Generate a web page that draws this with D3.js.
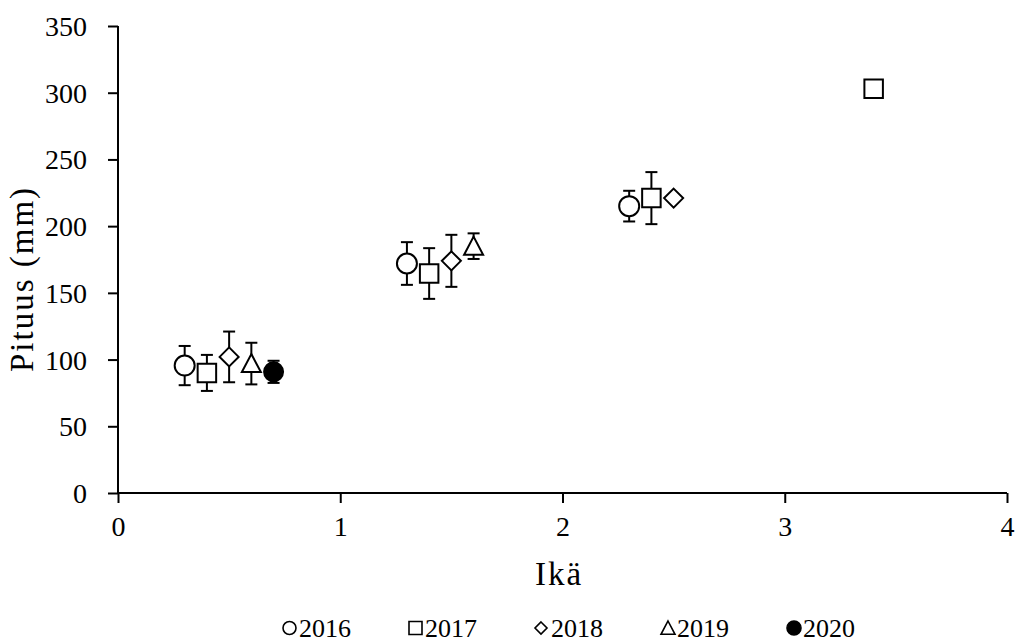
<!DOCTYPE html>
<html>
<head>
<meta charset="utf-8">
<script src="https://cdn.jsdelivr.net/npm/d3@7"></script>
<style>
  html, body { margin: 0; padding: 0; background: #fff; }
  svg { display: block; }
  text { font-family: "Palatino Linotype", "Book Antiqua", Palatino, "Liberation Serif", serif; fill: #000; }
</style>
</head>
<body>
<svg id="chart" width="1016" height="643"></svg>
<script>
// ---- data ----
const seriesNames = ["2016", "2017", "2018", "2019", "2020"];
const ages2016 = [0.3, 1.3, 2.3];
const len2016  = [95.5, 172, 215];
const err2016  = [14.7, 16, 11.5];
const ages2017 = [0.4, 1.4, 2.4, 3.4];
const len2017  = [90, 164.5, 221, 303];
const err2017  = [13.5, 19, 19.5, 0];
const ages2018 = [0.5, 1.5, 2.5];
const len2018  = [102, 174, 221];
const err2018  = [19, 19.5, 0];
const ages2019 = [0.6, 1.6];
const len2019  = [97, 185];
const err2019  = [15.6, 9.6];
const ages2020 = [0.7];
const len2020  = [90.8];
const err2020  = [8.3];
const xTicks = [0, 1, 2, 3, 4];
const yTicks = [0, 50, 100, 150, 200, 250, 300, 350];
const xTitle = "Ikä";
const yTitle = "Pituus (mm)";

const shapes = ["circle", "square", "diamond", "triangle", "dot"];
const series = [
  {name: seriesNames[0], x: ages2016, y: len2016, e: err2016, shape: shapes[0]},
  {name: seriesNames[1], x: ages2017, y: len2017, e: err2017, shape: shapes[1]},
  {name: seriesNames[2], x: ages2018, y: len2018, e: err2018, shape: shapes[2]},
  {name: seriesNames[3], x: ages2019, y: len2019, e: err2019, shape: shapes[3]},
  {name: seriesNames[4], x: ages2020, y: len2020, e: err2020, shape: shapes[4]},
];

// ---- layout ----
const svg = d3.select("#chart");
const margin = {left: 118, right: 9, top: 26, bottom: 150};
const W = 1016, H = 643;
const x = d3.scaleLinear().domain([0, 4]).range([margin.left, W - margin.right]);
const y = d3.scaleLinear().domain([0, 350]).range([H - margin.bottom, margin.top]);

const tickFont = 28;

// axes
const xAxis = svg.append("g")
  .attr("transform", `translate(0,${y(0)})`)
  .call(d3.axisBottom(x).tickValues(xTicks).tickSize(10).tickPadding(13).tickFormat(d3.format("d")));
const yAxis = svg.append("g")
  .attr("transform", `translate(${x(0)},0)`)
  .call(d3.axisLeft(y).tickValues(yTicks).tickSize(10).tickPadding(21).tickFormat(d3.format("d")));
[xAxis, yAxis].forEach(g => {
  g.select(".domain").attr("stroke", "#000").attr("stroke-width", 2);
  g.selectAll(".tick line").attr("stroke", "#000").attr("stroke-width", 2);
  g.selectAll(".tick text").style("font-size", tickFont + "px").attr("fill", "#000");
});
xAxis.select(".domain").attr("d", `M${x(0)},0H${x(4)}`);
yAxis.select(".domain").attr("d", `M0,${y(0)}V${y(350)}`);
yAxis.selectAll(".tick text").attr("dy", "0.34em");

// titles
svg.append("text")
  .attr("x", 559)
  .attr("y", 585)
  .attr("text-anchor", "middle")
  .style("font-size", "33px")
  .style("letter-spacing", "2px")
  .text(xTitle);
svg.append("text")
  .attr("transform", `translate(33,279) rotate(-90)`)
  .attr("text-anchor", "middle")
  .style("font-size", "33px")
  .style("letter-spacing", "2px")
  .text(yTitle);

// marker paths
function markerPath(shape, s) {
  const h = s / 2;
  if (shape === "circle" || shape === "dot") {
    return `M${h},0A${h},${h} 0 1,1 ${-h},0A${h},${h} 0 1,1 ${h},0Z`;
  }
  if (shape === "square") return `M${-h},${-h}H${h}V${h}H${-h}Z`;
  if (shape === "diamond") return `M0,${-h}L${h},0L0,${h}L${-h},0Z`;
  if (shape === "triangle") return `M0,${-h}L${h},${h * 0.9}L${-h},${h * 0.9}Z`;
}
const markerSize = {circle: 20, square: 18.5, diamond: 19, triangle: 19, dot: 19};

const plot = svg.append("g");
const capW = 12;
series.forEach(s => {
  const pts = s.x.map((xv, i) => ({x: xv, y: s.y[i], e: s.e[i]}));
  const g = plot.append("g");
  pts.filter(p => p.e > 0).forEach(p => {
    const cx = x(p.x);
    const eb = g.append("g").attr("stroke", "#000").attr("stroke-width", 2);
    eb.append("line").attr("x1", cx).attr("x2", cx).attr("y1", y(p.y + p.e)).attr("y2", y(p.y - p.e));
    eb.append("line").attr("x1", cx - capW / 2).attr("x2", cx + capW / 2).attr("y1", y(p.y + p.e)).attr("y2", y(p.y + p.e));
    eb.append("line").attr("x1", cx - capW / 2).attr("x2", cx + capW / 2).attr("y1", y(p.y - p.e)).attr("y2", y(p.y - p.e));
  });
  g.selectAll("path.mk").data(pts).join("path")
    .attr("class", "mk")
    .attr("transform", p => `translate(${x(p.x)},${y(p.y)})`)
    .attr("d", markerPath(s.shape, markerSize[s.shape]))
    .attr("fill", s.shape === "dot" ? "#000" : "#fff")
    .attr("stroke", "#000")
    .attr("stroke-width", 2);
});

// legend
const legend = svg.append("g").attr("transform", "translate(282,628)");
const legSize = {circle: 13, square: 13, diamond: 12, triangle: 14, dot: 14};
series.forEach((s, i) => {
  const g = legend.append("g").attr("transform", `translate(${i * 126},0)`);
  g.append("path")
    .attr("transform", `translate(${legSize[s.shape] / 2 + 1},0)`)
    .attr("d", markerPath(s.shape, legSize[s.shape]))
    .attr("fill", s.shape === "dot" ? "#000" : "#fff")
    .attr("stroke", "#000")
    .attr("stroke-width", 1.6);
  g.append("text")
    .attr("x", 17)
    .attr("y", 0)
    .attr("dy", "0.36em")
    .style("font-size", "26px")
    .text(s.name);
});
</script>
</body>
</html>
